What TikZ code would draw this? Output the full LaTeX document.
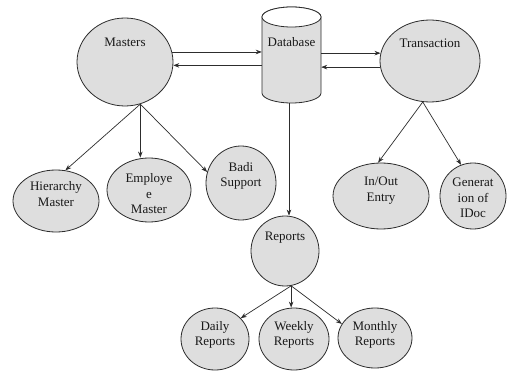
\documentclass[tikz,border=0pt]{standalone}
\usepackage{fontspec}
\setmainfont{Liberation Serif}
\usetikzlibrary{shapes.geometric,arrows.meta}
\definecolor{nodefill}{RGB}{222,222,222}
\definecolor{linecol}{RGB}{45,45,45}
\tikzset{
  ell/.style={ellipse, draw=linecol, line width=0.8pt, fill=nodefill, inner sep=0pt},
  txt/.style={font=\fontsize{13}{15.5}\selectfont, align=center, inner sep=0pt, text=black!90},
  arr/.style={draw=linecol, line width=0.7pt, -{Stealth[length=6pt,width=4.5pt]}},
}
\begin{document}
\begin{tikzpicture}[x=1pt,y=-1pt]
\useasboundingbox[fill=white] (0,0) rectangle (510,371);
% database cylinder
\node[minimum width=59pt, minimum height=96pt, inner sep=0pt] (db) at (291.5,55) {};
\path[fill=nodefill, draw=linecol, line width=0.8pt]
  (262,17) -- (262,93) arc[start angle=180, end angle=360, x radius=29.5pt, y radius=10pt]
  -- (321,17) arc[start angle=0, end angle=180, x radius=29.5pt, y radius=10pt] -- cycle;
\draw[fill=white, draw=linecol, line width=0.8pt] (291.5,17) ellipse [x radius=29.5pt, y radius=10pt];
\node[txt] (dbL) at (291.5,42) {Database};
% ellipses
\node[ell, minimum width=96pt, minimum height=88pt] (masters) at (125,62) {};
\node[txt] (mastersL) at (125,42) {Masters};
\node[ell, minimum width=100pt, minimum height=82pt] (trans) at (430,61) {};
\node[txt] (transL) at (430,43) {Transaction};
\node[ell, minimum width=86pt, minimum height=62pt] (hier) at (56,201) {};
\node[txt] (hierL) at (56,194) {Hierarchy\\Master};
\node[ell, minimum width=84pt, minimum height=64pt] (emp) at (149,190) {};
\node[txt] (empL) at (149,194) {Employe\\e\\Master};
\node[ell, minimum width=70pt, minimum height=74pt] (badi) at (241,183) {};
\node[txt] (badiL) at (241,176) {Badi\\Support};
\node[ell, minimum width=96pt, minimum height=66pt] (inout) at (381,196) {};
\node[txt] (inoutL) at (381,190.5) {In/Out\\Entry};
\node[ell, minimum width=66pt, minimum height=66pt] (gen) at (473,196) {};
\node[txt] (genL) at (473,198) {Generat\\ion of\\IDoc};
\node[ell, minimum width=68pt, minimum height=70pt] (reports) at (285,251) {};
\node[txt] (reportsL) at (285,238) {Reports};
\node[ell, minimum width=68pt, minimum height=62pt] (daily) at (215,339) {};
\node[txt] (dailyL) at (215,335) {Daily\\Reports};
\node[ell, minimum width=70pt, minimum height=62pt] (weekly) at (294,339) {};
\node[txt] (weeklyL) at (294,335) {Weekly\\Reports};
\node[ell, minimum width=74pt, minimum height=60pt] (monthly) at (375,338) {};
\node[txt] (monthlyL) at (375,335) {Monthly\\Reports};
% connectors masters <-> db
\draw[arr] (masters.12) -- (masters.12 -| db.west);
\draw[arr] (masters.-4 -| db.west) -- (masters.-4);
% db <-> transaction
\draw[arr] (trans.171 -| db.east) -- (trans.171);
\draw[arr] (trans.187) -- (trans.187 -| db.east);
% masters children
\draw[arr] (masters.-70) -- (hier.73);
\draw[arr] (masters.-70) -- (masters.-70 |- emp.north);
\draw[arr] (masters.-70) -- (badi.162);
% transaction children
\draw[arr] (trans.-100) -- (inout.95);
\draw[arr] (trans.-100) -- (gen.111);
% db to reports
\draw[arr] ([xshift=-2.5pt]db.south) -- ([xshift=-2.5pt]db.south |- reports.north);
% reports children
\draw[arr] (reports.-80) -- (daily.39);
\draw[arr] (reports.-80) -- (reports.-80 |- weekly.north);
\draw[arr] (reports.-80) -- (monthly.157);
\end{tikzpicture}
\end{document}
